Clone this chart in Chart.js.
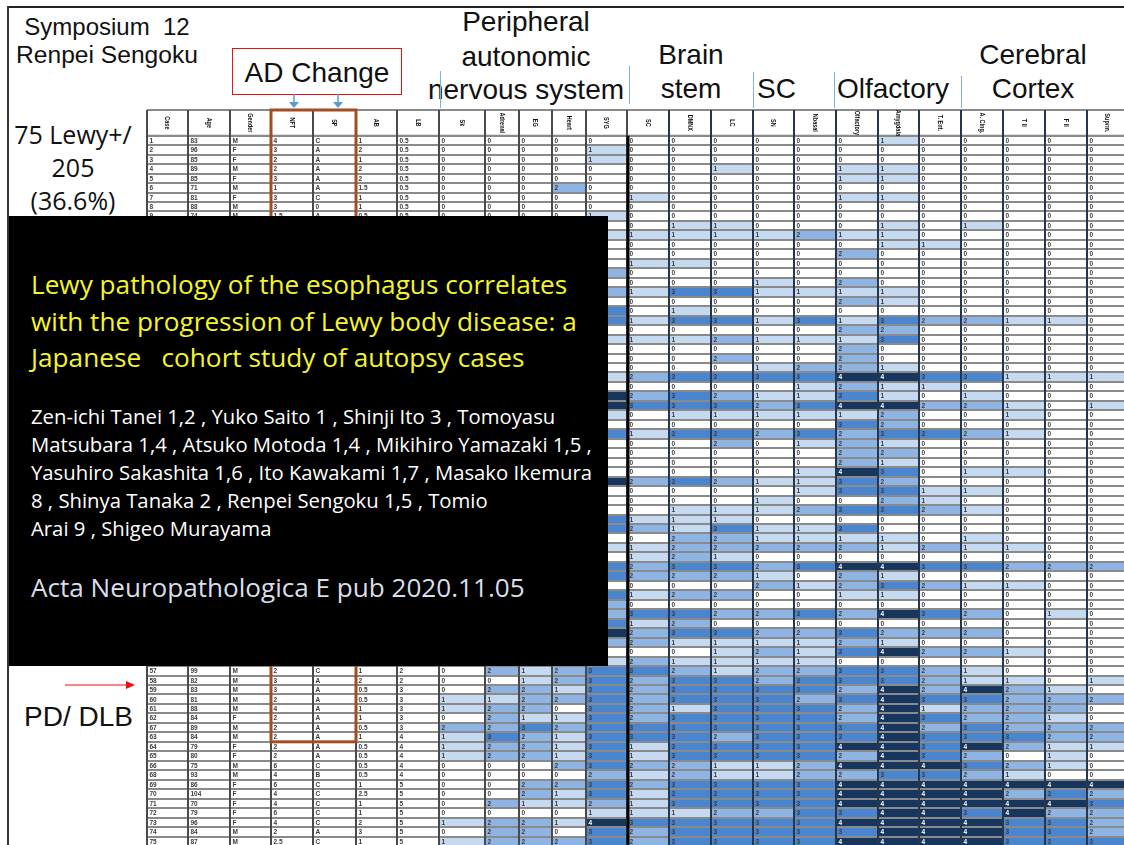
<!DOCTYPE html>
<html>
<head>
<meta charset="utf-8">
<script src="https://cdn.jsdelivr.net/npm/chart.js@4/dist/chart.umd.min.js"></script>
<style>
  html, body { margin: 0; background: #fff; }
  #slide { position: relative; width: 1124px; height: 845px; overflow: hidden; background: #fff; }
  #slide canvas { position: absolute; left: 145px; top: 108px; filter: blur(0.6px); }
  .txt { position: absolute; white-space: pre; transform: translateY(-50%); color: #111; font-family: "Liberation Sans", sans-serif; font-size: 28px; }
  .mid { transform: translate(-50%, -50%); }
  .open { font-family: "Open Sans", sans-serif; }
  .sep { position: absolute; width: 1px; background: #7fb0de; }
  #panel { position: absolute; left: 9px; top: 216px; width: 599px; height: 450px; background: #000; }
  #panel .txt { font-family: "Open Sans", sans-serif; }
  .ttl { color: #f4f52b !important; font-size: 26.2px !important; left: 22px; }
  .aut { color: #fff !important; font-size: 20.3px !important; left: 22px; }
</style>
</head>
<body>
<div id="slide">
  <canvas id="table" width="985" height="738"></canvas>

  <div style="position:absolute;left:7px;top:6px;width:1117px;height:2px;background:#222"></div>
  <div style="position:absolute;left:7px;top:6px;width:2px;height:839px;background:#333"></div>

  <div class="txt mid" style="left:107px;top:27px;font-size:24px">Symposium  12</div>
  <div class="txt mid" style="left:107px;top:55px;font-size:24.600px">Renpei Sengoku</div>
  <div style="position:absolute;left:232px;top:48px;width:168px;height:45px;border:1px solid #f01010"></div>
  <div class="txt mid" style="left:317px;top:73px">AD Change</div>

  <div class="txt mid" style="left:526px;top:22px">Peripheral</div>
  <div class="txt mid" style="left:526px;top:57px">autonomic</div>
  <div class="txt mid" style="left:526px;top:90px">nervous system</div>
  <div class="txt mid" style="left:691px;top:55px">Brain</div>
  <div class="txt mid" style="left:691px;top:89px">stem</div>
  <div class="txt" style="left:757px;top:89px">SC</div>
  <div class="txt" style="left:837px;top:89px">Olfactory</div>
  <div class="txt mid" style="left:1033px;top:55px">Cerebral</div>
  <div class="txt mid" style="left:1033px;top:89px">Cortex</div>

  <div class="sep" style="left:440px;top:71px;height:37px"></div>
  <div class="sep" style="left:629px;top:66px;height:38px"></div>
  <div class="sep" style="left:753px;top:72px;height:36px"></div>
  <div class="sep" style="left:834px;top:72px;height:36px"></div>
  <div class="sep" style="left:961px;top:76px;height:32px"></div>

  <div class="txt mid open" style="left:73px;top:134px;font-size:25px">75 Lewy+/</div>
  <div class="txt mid open" style="left:73px;top:167px;font-size:25px">205</div>
  <div class="txt mid open" style="left:73px;top:200px;font-size:25px">(36.6%)</div>
  <div class="txt" style="left:24px;top:717px">PD/ DLB</div>

  <svg style="position:absolute;left:0;top:0" width="1124" height="845">
    <path d="M294 94V102M338 94V102" stroke="#5b9bd5" stroke-width="1.5"/>
    <path d="M289 102H299L294 108ZM333 102H343L338 108Z" fill="#5b9bd5"/>
    <path d="M65 685H127" stroke="#f01010" stroke-width="1"/>
    <path d="M126 681V689L135 685Z" fill="#f01010"/>
  </svg>

  <div id="panel">
    <div class="txt ttl" style="top:68px">Lewy pathology of the esophagus correlates</div>
    <div class="txt ttl" style="top:105px">with the progression of Lewy body disease: a</div>
    <div class="txt ttl" style="top:141px">Japanese   cohort study of autopsy cases</div>
    <div class="txt aut" style="top:200px">Zen-ichi Tanei 1,2 , Yuko Saito 1 , Shinji Ito 3 , Tomoyasu</div>
    <div class="txt aut" style="top:228px">Matsubara 1,4 , Atsuko Motoda 1,4 , Mikihiro Yamazaki 1,5 ,</div>
    <div class="txt aut" style="top:256px">Yasuhiro Sakashita 1,6 , Ito Kawakami 1,7 , Masako Ikemura</div>
    <div class="txt aut" style="top:284px">8 , Shinya Tanaka 2 , Renpei Sengoku 1,5 , Tomio</div>
    <div class="txt aut" style="top:312px">Arai 9 , Shigeo Murayama</div>
    <div class="txt" style="left:22px;top:371px;font-size:26.100px;color:#d9dfe8">Acta Neuropathologica E pub 2020.11.05</div>
  </div>
</div>

<script>
// rows 10-56 of the left columns sit behind the black panel, so they stay empty
const hidden = Array(47).fill('');

const columns = ['Case', 'Age', 'Gender', 'NFT', 'SP', 'AB', 'LB', 'Sk', 'Adrenal', 'EG', 'Heart', 'SYG',
  'SC', 'DMNX', 'LC', 'SN', 'Nbasal', 'Olfactory', 'Amygdala', 'T. Ent.', 'A. Cing.', 'T II', 'F II', 'Suprm.'];

const caseLabels = ['1', '2', '3', '4', '5', '6', '7', '8', '9', '10', '11', '12', '13', '14', '15', '16', '17', '18', '19', '20',
  '21', '22', '23', '24', '25', '26', '27', '28', '29', '30', '31', '32', '33', '34', '35', '36', '37', '38', '39', '40',
  '41', '42', '43', '44', '45', '46', '47', '48', '49', '50', '51', '52', '53', '54', '55', '56', '57', '58', '59', '60',
  '61', '62', '67', '63', '64', '65', '66', '68', '69', '70', '71', '72', '73', '74', '75'];

const ages = ['83', '96', '85', '89', '85', '71', '81', '88', '74', ...hidden,
  '99', '82', '83', '81', '88', '84', '89', '84', '79', '80', '75', '93', '86', '104', '70', '79', '96', '84', '87'];
const genders = ['M', 'F', 'F', 'M', 'F', 'M', 'F', 'M', 'M', ...hidden,
  'M', 'M', 'M', 'M', 'M', 'F', 'M', 'M', 'F', 'F', 'M', 'M', 'F', 'F', 'F', 'F', 'F', 'M', 'M'];
const nft = ['4', '3', '2', '2', '3', '1', '3', '3', '1.5', ...hidden,
  '2', '3', '3', '2', '4', '2', '2', '2', '2', '2', '6', '4', '6', '4', '4', '6', '4', '2', '2.5'];
const sp = ['C', 'A', 'A', 'A', 'A', 'A', 'C', '0', 'A', ...hidden,
  'C', 'A', 'A', 'A', 'A', 'A', 'A', 'A', 'A', 'A', 'C', 'B', 'C', 'C', 'C', 'C', 'C', 'A', 'C'];
const ab = ['1', '2', '1', '2', '2', '1.5', '1', '1', '0.5', ...hidden,
  '1', '2', '0.5', '0.5', '1', '1', '0.5', '1', '0.5', '0.5', '0.5', '0.5', '1', '2.5', '1', '1', '2', '3', '1'];
const lb = ['0.5', '0.5', '0.5', '0.5', '0.5', '0.5', '0.5', '0.5', '0.5', ...hidden,
  '2', '2', '3', '3', '3', '3', '3', '4', '4', '4', '4', '4', '5', '5', '5', '5', '5', '5', '5'];

const sk = ['0', '0', '0', '0', '0', '0', '0', '0', '0', ...hidden,
  '0', '0', '0', '1', '1', '0', '2', '1', '1', '1', '0', '0', '0', '0', '0', '0', '1', '0', '1'];
const adrenal = ['0', '0', '0', '0', '0', '0', '0', '0', '0', ...hidden,
  '2', '0', '2', '1', '2', '2', '2', '3', '2', '2', '0', '0', '0', '0', '2', '0', '2', '2', '2'];
const eg = ['0', '0', '0', '0', '0', '0', '0', '0', '0', ...hidden,
  '1', '1', '2', '2', '2', '1', '3', '2', '2', '2', '0', '0', '2', '2', '1', '0', '2', '2', '2'];
const heart = ['0', '0', '0', '0', '0', '2', '0', '0', '0', ...hidden,
  '2', '2', '1', '2', '0', '1', '2', '1', '1', '1', '2', '0', '2', '1', '1', '0', '1', '0', '2'];
const syg = ['0', '1', '1', '0', '0', '0', '0', '0', '1', '0', '1', '0', '0', '0', '2', '0', '2', '0', '3', '3',
  '0', '1', '0', '0', '0', '1', '0', '4', '4', '1', '0', '3', '0', '0', '0', '0', '4', '0', '0', '0',
  '3', '3', '0', '1', '0', '3', '3', '0', '3', '2', '2', '3', '4', '2', '0', '1', '3', '3', '3', '3',
  '3', '3', '3', '3', '3', '3', '3', '2', '3', '3', '2', '1', '4', '3', '3'];

// one string per row: SC, DMNX, LC
const brainStem = ['000', '000', '000', '001', '000', '000', '100', '000', '000', '011',
  '111', '000', '000', '110', '000', '000', '133', '000', '010', '133',
  '000', '112', '000', '002', '000', '233', '000', '232', '333', '011',
  '000', '133', '002', '000', '000', '000', '232', '000', '000', '011',
  '111', '213', '022', '122', '121', '233', '222', '000', '122', '000',
  '332', '120', '233', '211', '001', '211', '321', '233', '233', '233',
  '213', '233', '333', '332', '133', '133', '221', '121', '233', '133',
  '133', '112', '333', '233', '233'];
// SN, Nbasal
const spinalCord = ['00', '00', '00', '00', '00', '00', '00', '00', '00', '00',
  '12', '00', '00', '00', '00', '10', '11', '00', '00', '13',
  '00', '11', '00', '00', '12', '33', '01', '11', '23', '11',
  '00', '23', '01', '00', '00', '01', '11', '01', '10', '12',
  '00', '11', '11', '22', '00', '23', '10', '21', '00', '00',
  '23', '00', '22', '11', '21', '11', '22', '23', '33', '32',
  '33', '33', '33', '33', '33', '33', '12', '12', '33', '33',
  '33', '23', '33', '33', '33'];
// Olfactory, Amygdala, T. Ent.
const olfactory = ['010', '000', '000', '110', '110', '000', '110', '000', '000', '010',
  '110', '011', '200', '000', '000', '200', '110', '210', '000', '132',
  '220', '130', '200', '200', '210', '443', '211', '310', '442', '120',
  '320', '233', '210', '220', '210', '430', '320', '331', '021', '332',
  '000', '300', '110', '212', '000', '443', '210', '232', '110', '000',
  '243', '000', '322', '210', '342', '000', '332', '332', '242', '343',
  '241', '243', '342', '343', '443', '243', '444', '233', '444', '444',
  '444', '344', '444', '344', '444'];
// A. Cing., T II, F II, Suprm.
const cortex = ['0000', '0000', '0000', '0000', '0000', '0000', '0000', '0000', '0000', '1000',
  '0000', '0000', '0000', '0000', '0000', '0000', '0000', '0000', '0000', '2110',
  '0000', '0000', '0000', '0000', '0000', '3111', '0000', '1000', '2101', '0100',
  '0000', '2100', '0000', '0000', '0000', '1100', '0000', '1000', '0000', '1000',
  '0000', '0000', '1000', '1100', '0000', '3222', '0000', '1100', '0000', '0000',
  '2010', '0000', '2000', '0000', '2100', '0000', '1000', '1101', '4210', '3222',
  '2220', '2210', '3222', '3322', '4211', '2010', '3210', '2100', '4444', '4232',
  '4443', '3422', '4332', '4332', '4333'];

// the table columns are not all the same width
const colWidths = [41, 42, 41, 42, 43, 41, 42, 46, 34, 33, 34, 41, 42, 42, 42, 41, 42, 42, 41, 42, 42, 42, 42, 41];
const levelColors = ['#ffffff', '#c5d9f1', '#8db4e2', '#4a86d0', '#17365d'];
const firstLevelCol = 7;

const pick = (rows, i) => rows.map(r => r[i]);
const cellText = [caseLabels, ages, genders, nft, sp, ab, lb, sk, adrenal, eg, heart, syg,
  pick(brainStem, 0), pick(brainStem, 1), pick(brainStem, 2),
  pick(spinalCord, 0), pick(spinalCord, 1),
  pick(olfactory, 0), pick(olfactory, 1), pick(olfactory, 2),
  pick(cortex, 0), pick(cortex, 1), pick(cortex, 2), pick(cortex, 3)];

const datasets = columns.map((name, c) => ({
  label: name,
  data: caseLabels.map(() => colWidths[c]),
  backgroundColor: cellText[c].map(v => (c >= firstLevelCol && v !== '') ? levelColors[+v] : '#ffffff'),
  borderWidth: 0,
  barPercentage: 1,
  categoryPercentage: 1
}));

// lines, cell numbers and rotated column names, placed from the bars themselves
const tableDecor = {
  id: 'tableDecor',
  afterDraw(chart) {
    const ctx = chart.ctx;
    const area = chart.chartArea;
    const y = chart.scales.y;
    const headTop = 110;
    const rowH = area.height / caseLabels.length;
    ctx.save();

    // cell numbers
    ctx.textBaseline = 'middle';
    ctx.font = 'bold 6.5px "Liberation Sans"';
    columns.forEach((name, c) => {
      chart.getDatasetMeta(c).data.forEach((bar, r) => {
        const v = cellText[c][r];
        if (v === '') return;
        const level = c >= firstLevelCol ? +v : 0;
        ctx.fillStyle = level === 4 ? '#ffffff' : '#3c3c3c';
        ctx.fillText(v, bar.base + 2.5, bar.y + 0.5);
      });
    });

    // header box and column lines
    const top = headTop - chart.canvas.offsetTop;
    ctx.strokeStyle = '#8a8a8a';
    ctx.lineWidth = 2;
    ctx.beginPath();
    ctx.moveTo(area.left, top);
    ctx.lineTo(area.right, top);
    ctx.moveTo(area.left, area.top);
    ctx.lineTo(area.right, area.top);
    ctx.stroke();

    columns.forEach((name, c) => {
      const bar = chart.getDatasetMeta(c).data[0];
      ctx.strokeStyle = c > 12 ? '#26364c' : '#4a4a4a';
      ctx.lineWidth = 2;
      ctx.beginPath();
      ctx.moveTo(bar.base, top);
      ctx.lineTo(bar.base, area.bottom);
      ctx.stroke();

      ctx.save();
      ctx.translate((bar.base + bar.x) / 2, (top + area.top) / 2);
      ctx.rotate(Math.PI / 2);
      ctx.scale(0.85, 1.2);
      ctx.font = 'bold 6.5px "Liberation Sans Narrow", "Liberation Sans"';
      ctx.textAlign = 'center';
      ctx.fillStyle = '#111111';
      ctx.fillText(name, 0, 0);
      ctx.restore();
    });

    // thick line between the peripheral and the brain columns
    const split = chart.getDatasetMeta(12).data[0].base;
    ctx.strokeStyle = '#000000';
    ctx.lineWidth = 3;
    ctx.beginPath();
    ctx.moveTo(split + 1, area.top);
    ctx.lineTo(split + 1, area.bottom);
    ctx.stroke();

    // brown box round NFT and SP, ends under the case labelled 63
    const left = chart.getDatasetMeta(3).data[0].base;
    const right = chart.getDatasetMeta(4).data[0].x;
    const bottom = y.getPixelForValue(caseLabels.indexOf('63')) + rowH / 2;
    ctx.strokeStyle = '#a04f22';
    ctx.lineWidth = 3;
    ctx.strokeRect(left, top, right - left, bottom - top);
    ctx.restore();
  }
};

new Chart(document.getElementById('table'), {
  type: 'bar',
  data: { labels: caseLabels, datasets: datasets },
  options: {
    indexAxis: 'y',
    responsive: false,
    animation: false,
    layout: { padding: { left: 2, right: 2, top: 27.7, bottom: 0 } },
    scales: {
      x: {
        stacked: true,
        display: false,
        min: 0,
        max: 981
      },
      y: {
        stacked: true,
        grid: { color: '#8a8a8a', lineWidth: 2, drawTicks: false, z: 1 },
        border: { display: false },
        ticks: { display: false, autoSkip: false }
      }
    },
    plugins: {
      legend: { display: false },
      tooltip: { enabled: false }
    }
  },
  plugins: [tableDecor]
});
</script>
</body>
</html>
